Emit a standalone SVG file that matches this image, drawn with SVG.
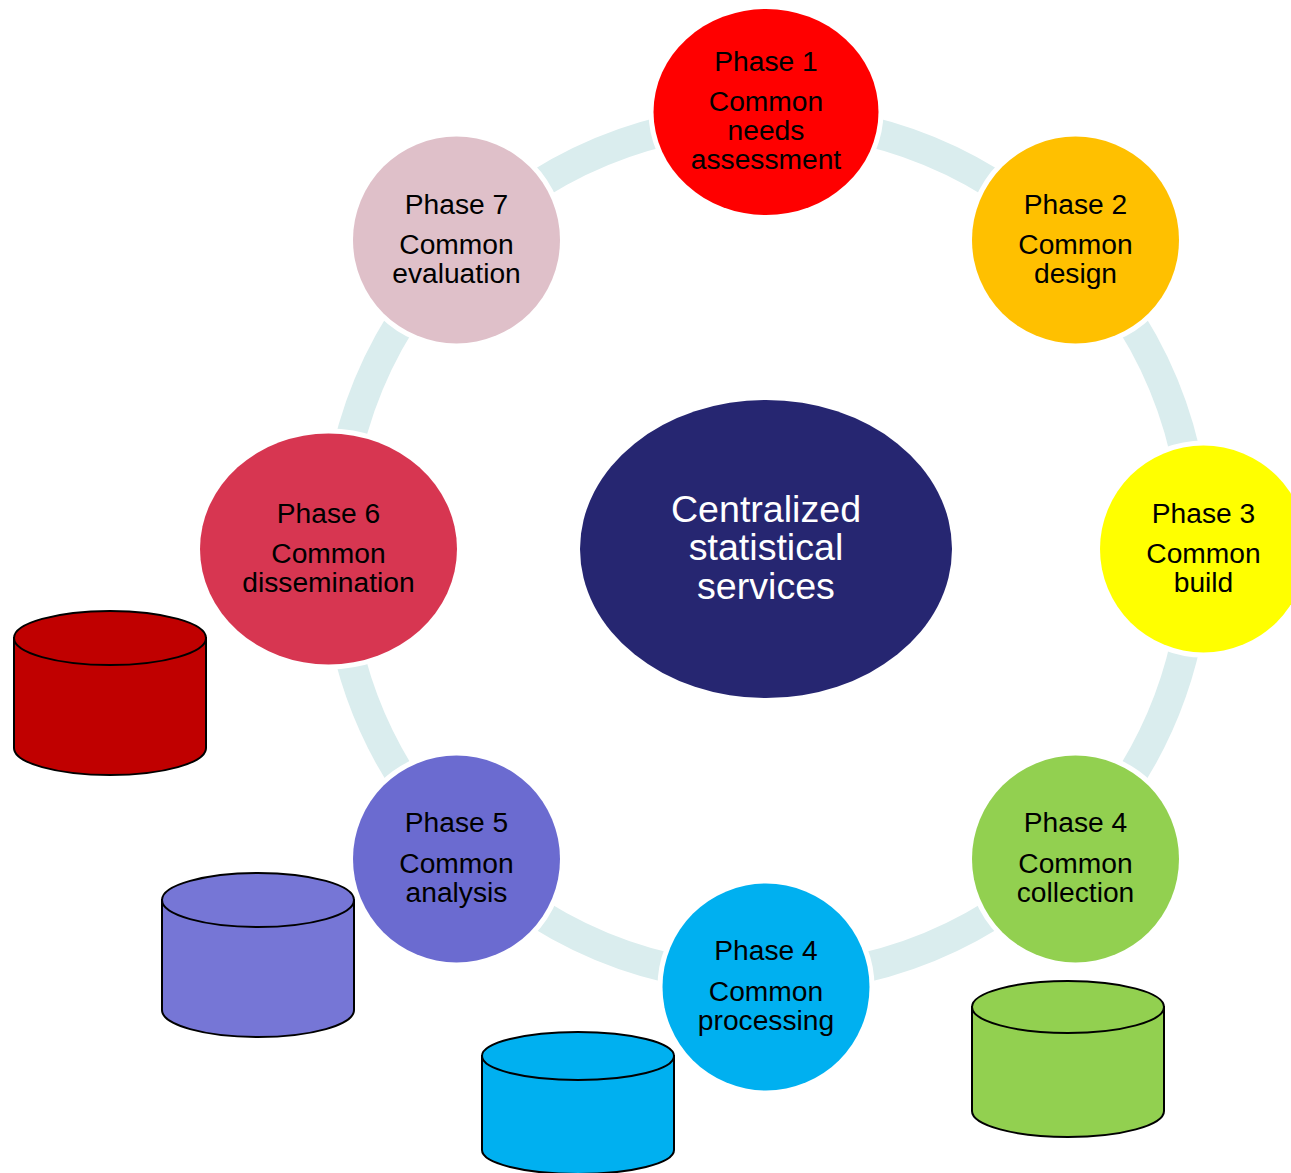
<svg xmlns="http://www.w3.org/2000/svg" width="1291" height="1173" viewBox="0 0 1291 1173">
<style>
.a{fill:none;stroke:#daedee;stroke-width:30}
.n{stroke:#fff;stroke-width:10;paint-order:stroke}
.t{font-family:"Liberation Sans",Arial,sans-serif;font-size:28.2px;fill:#000;text-anchor:middle}
.c{font-family:"Liberation Sans",Arial,sans-serif;font-size:37.6px;fill:#fff;text-anchor:middle}
.k{stroke:#000;stroke-width:2}
</style>
<rect width="1291" height="1173" fill="#fff"/>
<g id="connectors">
<path class="a" d="M840.7 125.5A430 430 0 0 1 1012.6 196.8"/>
<path class="a" d="M1118.2 302.4A430 430 0 0 1 1189.5 474.3"/>
<path class="a" d="M1189.5 623.7A430 430 0 0 1 1118.2 795.6"/>
<path class="a" d="M1012.6 901.2A430 430 0 0 1 840.7 972.5"/>
<path class="a" d="M691.3 972.5A430 430 0 0 1 519.4 901.2"/>
<path class="a" d="M413.8 795.6A430 430 0 0 1 342.5 623.7"/>
<path class="a" d="M342.5 474.3A430 430 0 0 1 413.8 302.4"/>
<path class="a" d="M519.4 196.8A430 430 0 0 1 691.3 125.5"/>
</g>
<g id="phase1"><ellipse class="n" cx="766" cy="112" rx="112.5" ry="103" fill="#ff0000"/><text class="t" x="766" y="71">Phase 1</text><text class="t" x="766" y="111">Common</text><text class="t" x="766" y="140">needs</text><text class="t" x="766" y="169">assessment</text></g>
<g id="phase2"><circle class="n" cx="1075.5" cy="240" r="103.5" fill="#ffc000"/><text class="t" x="1075.5" y="214">Phase 2</text><text class="t" x="1075.5" y="254">Common</text><text class="t" x="1075.5" y="283">design</text></g>
<g id="phase3"><circle class="n" cx="1203.5" cy="549" r="103.5" fill="#ffff00"/><text class="t" x="1203.5" y="523">Phase 3</text><text class="t" x="1203.5" y="563">Common</text><text class="t" x="1203.5" y="592">build</text></g>
<g id="phase4a"><circle class="n" cx="1075.5" cy="859" r="103.5" fill="#92d050"/><text class="t" x="1075.5" y="832">Phase 4</text><text class="t" x="1075.5" y="873">Common</text><text class="t" x="1075.5" y="902">collection</text></g>
<g id="phase4b"><circle class="n" cx="766" cy="987" r="103.5" fill="#00b0f0"/><text class="t" x="766" y="960">Phase 4</text><text class="t" x="766" y="1001">Common</text><text class="t" x="766" y="1030">processing</text></g>
<g id="phase5"><circle class="n" cx="456.5" cy="859" r="103.5" fill="#6b6bd0"/><text class="t" x="456.5" y="832">Phase 5</text><text class="t" x="456.5" y="873">Common</text><text class="t" x="456.5" y="902">analysis</text></g>
<g id="phase6"><ellipse class="n" cx="328.5" cy="549" rx="128.5" ry="115.5" fill="#d73651"/><text class="t" x="328.5" y="523">Phase 6</text><text class="t" x="328.5" y="563">Common</text><text class="t" x="328.5" y="592">dissemination</text></g>
<g id="phase7"><circle class="n" cx="456.5" cy="240" r="103.5" fill="#dfc0c9"/><text class="t" x="456.5" y="214">Phase 7</text><text class="t" x="456.5" y="254">Common</text><text class="t" x="456.5" y="283">evaluation</text></g>
<g id="center"><ellipse cx="766" cy="549" rx="186" ry="149" fill="#262671"/><text class="c" x="766" y="522">Centralized</text><text class="c" x="766" y="560">statistical</text><text class="c" x="766" y="599">services</text></g>
<g id="db-red"><path class="k" fill="#c00000" d="M14 638V748A96 27 0 0 0 206 748V638Z"/><ellipse class="k" cx="110" cy="638" rx="96" ry="27" fill="#c00000"/></g>
<g id="db-purple"><path class="k" fill="#7676d6" d="M162 900V1010A96 27 0 0 0 354 1010V900Z"/><ellipse class="k" cx="258" cy="900" rx="96" ry="27" fill="#7676d6"/></g>
<g id="db-blue"><path class="k" fill="#00b0f0" d="M482 1056V1150A96 24 0 0 0 674 1150V1056Z"/><ellipse class="k" cx="578" cy="1056" rx="96" ry="24" fill="#00b0f0"/></g>
<g id="db-green"><path class="k" fill="#92d050" d="M972 1007V1111A96 26 0 0 0 1164 1111V1007Z"/><ellipse class="k" cx="1068" cy="1007" rx="96" ry="26" fill="#92d050"/></g>
</svg>
